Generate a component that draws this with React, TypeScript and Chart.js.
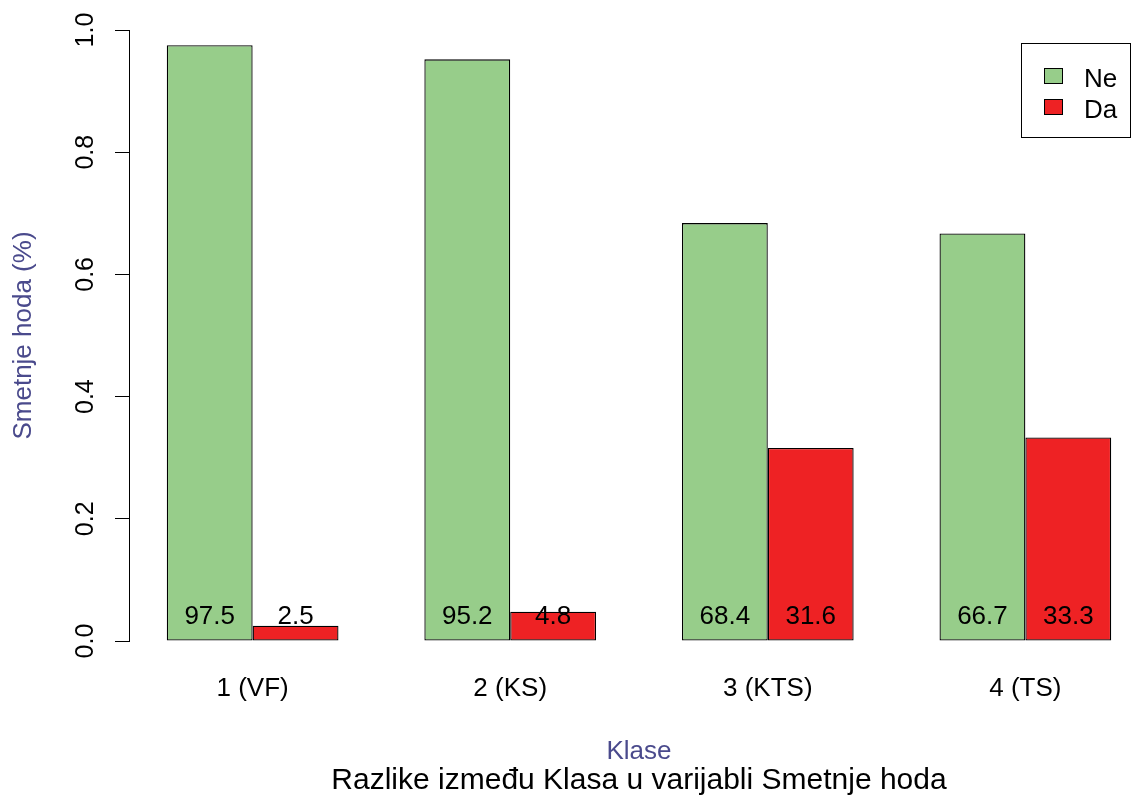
import React, { useEffect, useRef } from 'react';
import { Chart, registerables } from 'chart.js';

Chart.register(...registerables);

// ---- data ----
const categories = ['1 (VF)', '2 (KS)', '3 (KTS)', '4 (TS)'];
const seriesNames = ['Ne', 'Da'];
const neValues = [0.975, 0.952, 0.684, 0.667];
const daValues = [0.025, 0.048, 0.316, 0.333];
const yTickValues = [0, 0.2, 0.4, 0.6, 0.8, 1.0];
const mainTitle = 'Razlike između Klasa u varijabli Smetnje hoda';
const xTitle = 'Klase';
const yTitle = 'Smetnje hoda (%)';

const seriesValues = [neValues, daValues];
const seriesColors = ['#97CD8A', '#EE2224'];

const FONT = "'Liberation Sans', Arial, Helvetica, sans-serif";
const AXIS_TITLE_COLOR = '#4A4A8C';

const valueLabels = {
  id: 'valueLabels',
  afterDatasetsDraw(chart: any) {
    const ctx = chart.ctx;
    const y = chart.scales.y.getPixelForValue(0.04);
    ctx.save();
    ctx.font = `26px ${FONT}`;
    ctx.fillStyle = '#000';
    ctx.textAlign = 'center';
    ctx.textBaseline = 'middle';
    chart.data.datasets.forEach((ds: any, di: number) => {
      const meta = chart.getDatasetMeta(di);
      meta.data.forEach((bar: any, i: number) => {
        const v = seriesValues[di][i];
        ctx.fillText((v * 100).toFixed(1), bar.x, y);
      });
    });
    ctx.restore();
  },
};

const boxLegend = {
  id: 'boxLegend',
  afterDraw(chart: any) {
    const ctx = chart.ctx;
    ctx.save();
    ctx.lineWidth = 1;
    ctx.strokeStyle = '#000';
    ctx.fillStyle = '#fff';
    ctx.fillRect(1021.5, 43.5, 109, 94);
    ctx.strokeRect(1021.5, 43.5, 109, 94);
    ctx.font = `26px ${FONT}`;
    ctx.textAlign = 'left';
    ctx.textBaseline = 'middle';
    chart.data.datasets.forEach((ds: any, i: number) => {
      const cy = 76 + i * 31;
      ctx.fillStyle = ds.backgroundColor;
      ctx.fillRect(1044, cy - 8, 19, 16);
      ctx.strokeRect(1044.5, cy - 7.5, 18, 15);
      ctx.fillStyle = '#000';
      ctx.fillText(ds.label, 1084, cy + 4);
    });
    ctx.restore();
  },
};

export default function App() {
  const canvasRef = useRef<HTMLCanvasElement | null>(null);

  useEffect(() => {
    if (!canvasRef.current) return;
    const chart = new Chart(canvasRef.current, {
      type: 'bar',
      data: {
        datasets: seriesNames.map((name, si) => ({
          label: name,
          data: seriesValues[si].map((v, i) => ({ x: i + 1, y: v })),
          backgroundColor: seriesColors[si],
          borderColor: '#000',
          borderWidth: 1.3,
          borderSkipped: false,
          categoryPercentage: 2 / 3,
          barPercentage: 1,
        })),
      },
      options: {
        responsive: false,
        animation: false,
        devicePixelRatio: 1,
        layout: { padding: { top: 30, left: 0, right: 0, bottom: 0 } },
        plugins: {
          legend: { display: false },
          tooltip: { enabled: false },
          title: {
            display: true,
            position: 'bottom',
            fullSize: false,
            text: mainTitle,
            color: '#000',
            font: { family: FONT, size: 30, weight: 'normal', lineHeight: 1 },
            padding: { top: 0, bottom: 4 },
          },
        },
        scales: {
          x: {
            type: 'linear',
            offset: false,
            min: 0.52,
            max: 4.48,
            afterBuildTicks: (axis: any) => {
              axis.ticks = categories.map((_, i) => ({ value: i + 1 }));
            },
            afterFit: (axis: any) => {
              axis.height = 125;
            },
            ticks: {
              callback: (v: any) => categories[Number(v) - 1] ?? '',
              autoSkip: false,
              maxRotation: 0,
              minRotation: 0,
              padding: 32,
              color: '#000',
              font: { family: FONT, size: 26 },
            },
            grid: { display: false, drawTicks: false, offset: false },
            border: { display: false },
            title: {
              display: true,
              text: xTitle,
              color: AXIS_TITLE_COLOR,
              font: { family: FONT, size: 26, lineHeight: 1 },
              padding: { top: 0, bottom: 1 },
            },
          },
          y: {
            type: 'linear',
            min: 0,
            max: 1,
            afterBuildTicks: (axis: any) => {
              axis.ticks = yTickValues.map((v) => ({ value: v }));
            },
            afterFit: (axis: any) => {
              axis.width = 129;
            },
            ticks: {
              callback: (v: any) => Number(v).toFixed(1),
              minRotation: 90,
              maxRotation: 90,
              crossAlign: 'center',
              padding: 12,
              color: '#000',
              font: { family: FONT, size: 25 },
            },
            grid: {
              drawOnChartArea: false,
              drawTicks: true,
              tickLength: 14,
              color: '#000',
              lineWidth: 1,
            },
            border: { display: true, color: '#000', width: 1 },
            title: {
              display: true,
              text: yTitle,
              color: AXIS_TITLE_COLOR,
              font: { family: FONT, size: 26, lineHeight: 1 },
              padding: { top: 11, bottom: 0 },
            },
          },
        },
      } as any,
      plugins: [valueLabels, boxLegend],
    });
    return () => chart.destroy();
  }, []);

  return (
    <div
      style={{
        position: 'absolute',
        left: 0,
        top: 0,
        width: 1134,
        height: 800,
        overflow: 'hidden',
        background: '#fff',
      }}
    >
      <canvas ref={canvasRef} width={1149} height={800} style={{ display: 'block' }} />
    </div>
  );
}
